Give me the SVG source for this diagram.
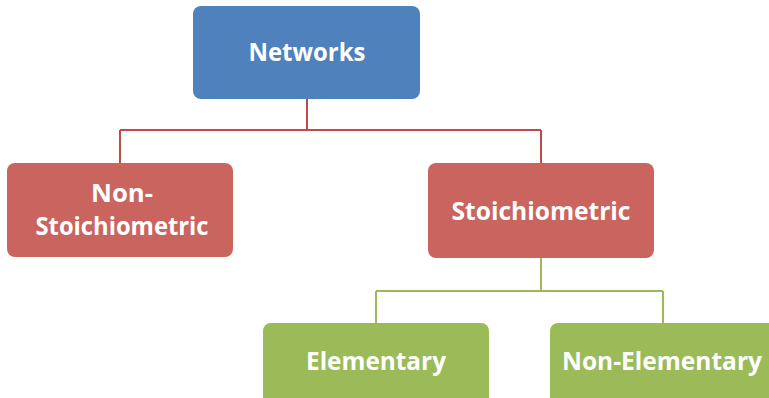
<svg xmlns="http://www.w3.org/2000/svg" width="769" height="398" viewBox="0 0 769 398">
<style>
.lbl{font-family:"Open Sans","Liberation Sans",sans-serif;font-weight:bold;font-size:25.5px;fill:#fff;text-anchor:middle}
.blue{fill:#4F81BD}
.red{fill:#C9645F}
.green{fill:#9BBB59}
.cr{fill:none;stroke:#BE4B48;stroke-width:2}
.cg{fill:none;stroke:#9BBB59;stroke-width:2}
</style>
<rect width="769" height="398" fill="#fff"/>
<g id="connectors">
<path class="cr" d="M307 99 V130 M120 130 H541 M120 130 V163 M541 130 V163"/>
<path class="cg" d="M541 258 V291 M376 291 H663 M376 291 V323 M663 291 V323"/>
</g>
<g id="networks">
<rect class="blue" x="193" y="6" width="227" height="93" rx="8"/>
<text class="lbl" x="307" y="61" textLength="117" lengthAdjust="spacingAndGlyphs">Networks</text>
</g>
<g id="non-stoichiometric">
<rect class="red" x="7" y="163" width="226" height="94" rx="8"/>
<text class="lbl" x="122" y="202" textLength="62" lengthAdjust="spacingAndGlyphs">Non-</text>
<text class="lbl" x="122" y="235" textLength="173" lengthAdjust="spacingAndGlyphs">Stoichiometric</text>
</g>
<g id="stoichiometric">
<rect class="red" x="428" y="163" width="226" height="95" rx="8"/>
<text class="lbl" x="541" y="220" textLength="179" lengthAdjust="spacingAndGlyphs">Stoichiometric</text>
</g>
<g id="elementary">
<rect class="green" x="263" y="323" width="226" height="94" rx="8"/>
<text class="lbl" x="376" y="370" textLength="140" lengthAdjust="spacingAndGlyphs">Elementary</text>
</g>
<g id="non-elementary">
<rect class="green" x="550" y="323" width="226" height="94" rx="8"/>
<text class="lbl" x="662" y="370" textLength="200" lengthAdjust="spacingAndGlyphs">Non-Elementary</text>
</g>
</svg>
